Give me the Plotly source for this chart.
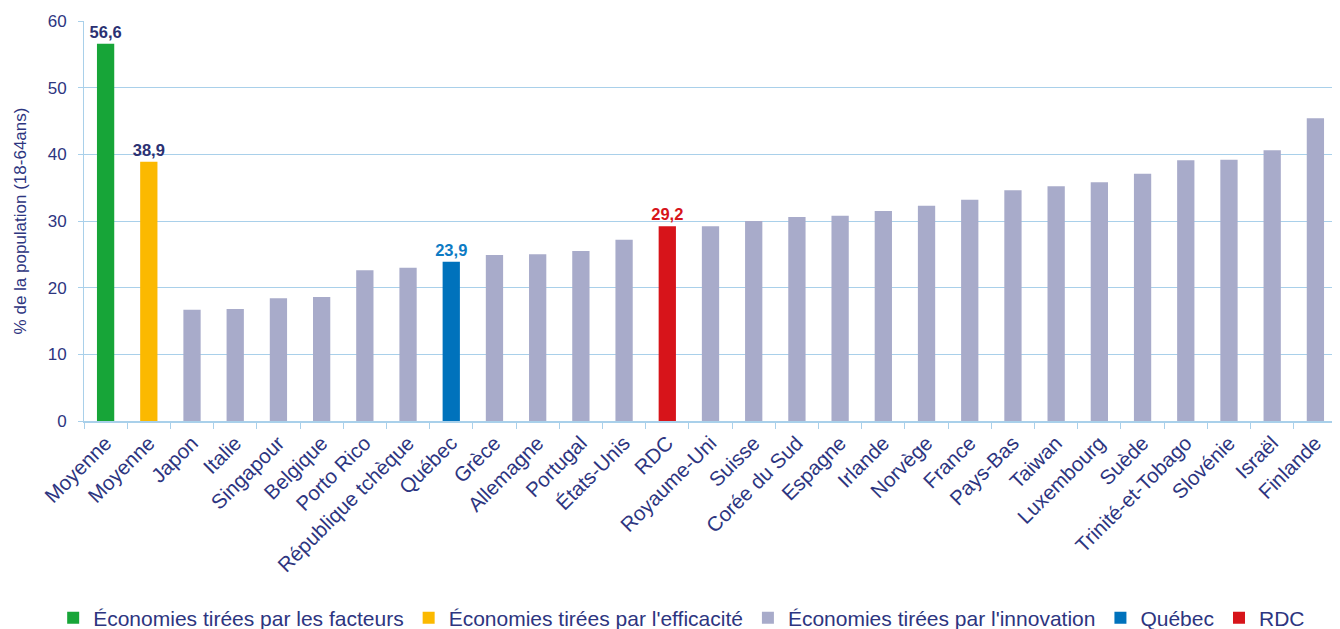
import plotly.graph_objects as go

# données
pays = ["Moyenne", "Moyenne", "Japon", "Italie", "Singapour", "Belgique", "Porto Rico",
        "République tchèque", "Québec", "Grèce", "Allemagne", "Portugal", "États-Unis",
        "RDC", "Royaume-Uni", "Suisse", "Corée du Sud", "Espagne", "Irlande", "Norvège",
        "France", "Pays-Bas", "Taiwan", "Luxembourg", "Suède", "Trinité-et-Tobago",
        "Slovénie", "Israël", "Finlande"]
valeurs = [56.6, 38.9, 16.7, 16.8, 18.4, 18.6, 22.6,
           23.0, 23.9, 24.9, 25.0, 25.5, 27.2,
           29.2, 29.2, 30.0, 30.6, 30.8, 31.5, 32.3,
           33.2, 34.6, 35.2, 35.8, 37.1, 39.1,
           39.2, 40.6, 45.4]
groupes = ["facteurs", "efficacite", "innovation", "innovation", "innovation", "innovation",
           "innovation", "innovation", "quebec", "innovation", "innovation", "innovation",
           "innovation", "rdc"] + ["innovation"] * 15

series = ["facteurs", "efficacite", "innovation", "quebec", "rdc"]
noms = ["Économies tirées par les facteurs", "Économies tirées par l'efficacité",
        "Économies tirées par l'innovation", "Québec", "RDC"]
couleurs = ["#17a538", "#fbb900", "#a8abca", "#0072bc", "#d7141a"]
couleurs_etiq = ["#2b3173", "#2b3173", None, "#0d7bc4", "#d7141a"]

NAVY = "#2d3580"
GRID = "#a9d0ea"
FONT = "Liberation Sans, Arial, sans-serif"

# clés uniques (deux « Moyenne »)
cles = [f"c{i}" for i in range(len(pays))]

fig = go.Figure()
for s, nom, coul, cetiq in zip(series, noms, couleurs, couleurs_etiq):
    idx = [i for i, g in enumerate(groupes) if g == s]
    fig.add_trace(go.Bar(
        x=[cles[i] for i in idx],
        y=[valeurs[i] for i in idx],
        name=nom,
        marker=dict(color=coul, line=dict(width=0)),
        width=0.4,
        texttemplate="%{y:.1f}" if cetiq else None,
        textposition="outside" if cetiq else "none",
        textfont=dict(family=FONT, size=16.5, color=cetiq or NAVY, weight="bold"),
        constraintext="none",
        cliponaxis=False,
    ))

fig.update_layout(
    width=1332, height=621,
    barmode="overlay",
    separators=", ",
    paper_bgcolor="white", plot_bgcolor="white",
    font=dict(family=FONT, color=NAVY),
    margin=dict(l=76, r=3, t=13, b=208, autoexpand=False),
    xaxis=dict(
        type="category",
        categoryorder="array", categoryarray=cles,
        tickmode="array", tickvals=cles, ticktext=pays,
        tickangle=-45, tickfont=dict(size=20.5, color=NAVY),
        tickson="boundaries", ticks="outside", ticklen=6, tickcolor=GRID,
        showline=True, linecolor=GRID, linewidth=2,
        showgrid=False, range=[-0.5, len(pays) - 0.5], automargin=False,
    ),
    yaxis=dict(
        range=[0, 60], dtick=10,
        tickfont=dict(size=17, color=NAVY),
        ticks="outside", ticklen=5, tickcolor=GRID, ticklabelstandoff=8,
        showline=True, linecolor=GRID, linewidth=1,
        gridcolor=GRID, gridwidth=1, zeroline=False, automargin=False,
        title=dict(text="% de la population (18-64ans)", font=dict(size=17, color=NAVY), standoff=16),
    ),
    legend=dict(
        orientation="h", x=0.477, xanchor="center",
        y=-0.4925, yanchor="middle",
        font=dict(size=21, color=NAVY), itemwidth=30,
        traceorder="normal",
    ),
)

fig.write_html("out.html")
